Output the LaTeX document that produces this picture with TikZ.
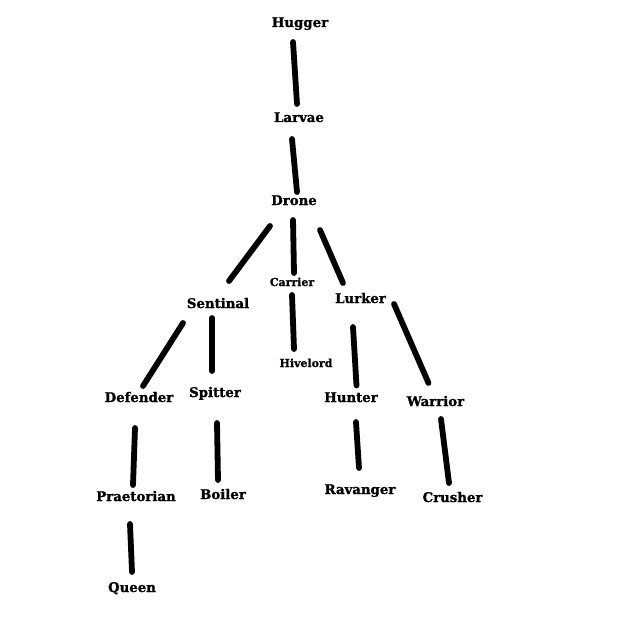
\documentclass[tikz,border=0pt]{standalone}
\usepackage{fontspec}
\setmainfont{DejaVu Serif}[BoldFeatures={FakeBold=1.2}]
\begin{document}
\begin{tikzpicture}[x=1pt,y=-1pt,
  lbl/.style={inner sep=0pt,anchor=base,font=\fontsize{13.3}{15}\selectfont\bfseries},
  small/.style={inner sep=0pt,anchor=base,font=\fontsize{11}{12}\selectfont\bfseries},
  edge/.style={line width=5.8pt,line cap=round}]
\useasboundingbox (0,0) rectangle (619,620);
\fill[white] (0,0) rectangle (619,620);
\node[lbl] (hugger) at (300,27) {Hugger};
\node[lbl] (larvae) at (299,122) {Larvae};
\node[lbl] (drone) at (294,205) {Drone};
\node[lbl] (sentinal) at (218,308) {Sentinal};
\node[small] (carrier) at (292,286) {Carrier};
\node[lbl] (lurker) at (360.5,303) {Lurker};
\node[small] (hivelord) at (306,367) {Hivelord};
\node[lbl] (defender) at (139,402) {Defender};
\node[lbl] (spitter) at (215,397) {Spitter};
\node[lbl] (praetorian) at (136,501) {Praetorian};
\node[lbl] (boiler) at (223,499) {Boiler};
\node[lbl] (queen) at (132,592) {Queen};
\node[lbl] (hunter) at (351,402) {Hunter};
\node[lbl] (warrior) at (435.5,406) {Warrior};
\node[lbl] (ravanger) at (360,494) {Ravanger};
\node[lbl] (crusher) at (452.5,502) {Crusher};
\draw[edge] ([shift={(-7,15)}]hugger.base) -- ([shift={(-2,-18)}]larvae.base);
\draw[edge] ([shift={(-7,17)}]larvae.base) -- ([shift={(3,-13)}]drone.base);
\draw[edge] ([shift={(-24,21)}]drone.base) -- ([shift={(11,-27)}]sentinal.base);
\draw[edge] ([shift={(-1,15)}]drone.base) -- ([shift={(2,-13)}]carrier.base);
\draw[edge] ([shift={(26,25)}]drone.base) -- ([shift={(-17.5,-20)}]lurker.base);
\draw[edge] ([shift={(0,9)}]carrier.base) -- ([shift={(-12,-18)}]hivelord.base);
\draw[edge] ([shift={(-6,10)}]sentinal.base) -- ([shift={(-3,-26)}]spitter.base);
\draw[edge] ([shift={(-35,15)}]sentinal.base) -- ([shift={(4,-16)}]defender.base);
\draw[edge] ([shift={(33.5,1)}]lurker.base) -- ([shift={(-7,-23)}]warrior.base);
\draw[edge] ([shift={(-7.5,24)}]lurker.base) -- ([shift={(5.5,-16.5)}]hunter.base);
\draw[edge] ([shift={(5,20)}]hunter.base) -- ([shift={(-1,-26)}]ravanger.base);
\draw[edge] ([shift={(5.5,13)}]warrior.base) -- ([shift={(-3.5,-19)}]crusher.base);
\draw[edge] ([shift={(-4,26)}]defender.base) -- ([shift={(-3,-16)}]praetorian.base);
\draw[edge] ([shift={(2,26)}]spitter.base) -- ([shift={(-5,-19)}]boiler.base);
\draw[edge] ([shift={(-6,23)}]praetorian.base) -- ([shift={(0,-20)}]queen.base);
\end{tikzpicture}
\end{document}
